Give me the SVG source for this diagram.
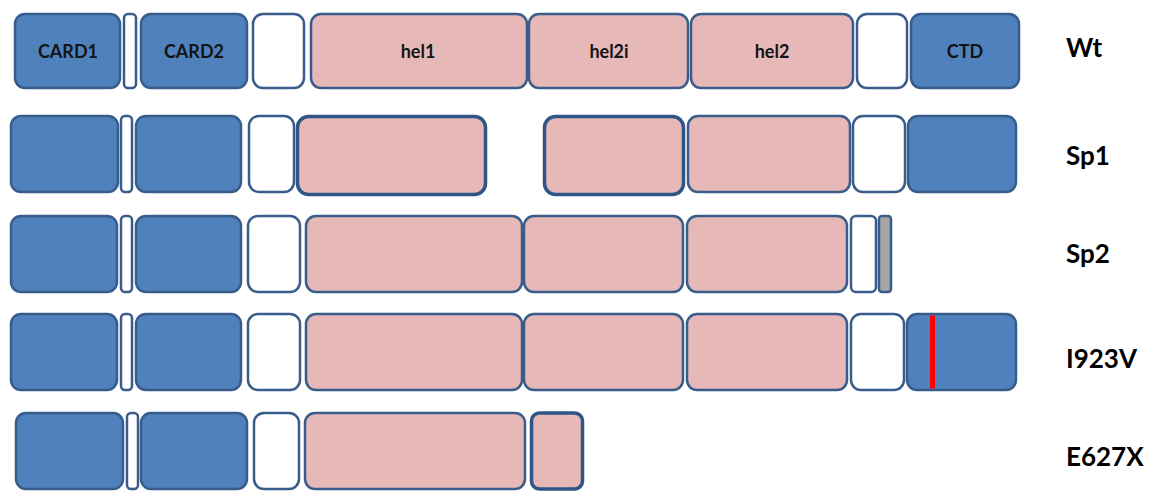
<svg xmlns="http://www.w3.org/2000/svg" width="1151" height="493" viewBox="0 0 1151 493">
<style>
.b{fill:#4F81BD;stroke:#385D8A;stroke-width:2.5}
.p{fill:#E6B9B8;stroke:#385D8A;stroke-width:2.5}
.pt{fill:#E6B9B8;stroke:#2F5587;stroke-width:3.5}
.w{fill:#FFFFFF;stroke:#385D8A;stroke-width:2.5}
.g{fill:#A6A6A6;stroke:#385D8A;stroke-width:2.5}
.t{font-family:Lato,"Liberation Sans",sans-serif;font-weight:bold;font-size:18px;fill:#141414;text-anchor:middle}
.lab{font-family:Lato,"Liberation Sans",sans-serif;font-weight:bold;font-size:26px;fill:#000}
</style>
<rect width="1151" height="493" fill="#FFFFFF"/>
<g id="row-wt">
<g id="wt-card1"><rect class="b" x="15" y="14" width="105" height="74" rx="10"/><text class="t" x="68" y="58">CARD1</text></g>
<g id="wt-link1"><rect class="w" x="124" y="14" width="12" height="74" rx="4"/></g>
<g id="wt-card2"><rect class="b" x="141" y="14" width="106" height="74" rx="10"/><text class="t" x="194" y="58">CARD2</text></g>
<g id="wt-link2"><rect class="w" x="253" y="14" width="51" height="74" rx="10"/></g>
<g id="wt-hel1"><rect class="p" x="311" y="14" width="216" height="74" rx="10"/><text class="t" x="418" y="58">hel1</text></g>
<g id="wt-hel2i"><rect class="p" x="529" y="14" width="159" height="74" rx="10"/><text class="t" x="609" y="58">hel2i</text></g>
<g id="wt-hel2"><rect class="p" x="691" y="14" width="162" height="74" rx="10"/><text class="t" x="772" y="58">hel2</text></g>
<g id="wt-link3"><rect class="w" x="857" y="14" width="50" height="74" rx="10"/></g>
<g id="wt-ctd"><rect class="b" x="911" y="14" width="108" height="74" rx="10"/><text class="t" x="965" y="58">CTD</text></g>
<text class="lab" x="1066" y="57">Wt</text>
</g>
<g id="row-sp1">
<g id="sp1-card1"><rect class="b" x="11" y="116" width="107" height="76" rx="10"/></g>
<g id="sp1-link1"><rect class="w" x="121" y="116" width="11" height="76" rx="4"/></g>
<g id="sp1-card2"><rect class="b" x="136" y="116" width="105" height="76" rx="10"/></g>
<g id="sp1-link2"><rect class="w" x="249" y="116" width="45" height="76" rx="10"/></g>
<g id="sp1-hel1"><rect class="pt" x="297.5" y="116.5" width="188" height="78" rx="11"/></g>
<g id="sp1-hel2i"><rect class="pt" x="544.5" y="116.5" width="139" height="78" rx="11"/></g>
<g id="sp1-hel2"><rect class="p" x="688" y="116" width="162" height="76" rx="10"/></g>
<g id="sp1-link3"><rect class="w" x="853" y="116" width="52" height="76" rx="10"/></g>
<g id="sp1-ctd"><rect class="b" x="908" y="116" width="108" height="76" rx="10"/></g>
<text class="lab" x="1066" y="165">Sp1</text>
</g>
<g id="row-sp2">
<g id="sp2-card1"><rect class="b" x="11" y="216" width="106" height="76" rx="10"/></g>
<g id="sp2-link1"><rect class="w" x="121" y="216" width="11" height="76" rx="4"/></g>
<g id="sp2-card2"><rect class="b" x="136" y="216" width="105" height="76" rx="10"/></g>
<g id="sp2-link2"><rect class="w" x="248" y="216" width="52" height="76" rx="10"/></g>
<g id="sp2-hel1"><rect class="p" x="306" y="216" width="216" height="76" rx="10"/></g>
<g id="sp2-hel2i"><rect class="p" x="524" y="216" width="159" height="76" rx="10"/></g>
<g id="sp2-hel2"><rect class="p" x="687" y="216" width="160" height="76" rx="10"/></g>
<g id="sp2-link3"><rect class="w" x="851" y="216" width="25" height="76" rx="5"/></g>
<g id="sp2-end"><rect class="g" x="879" y="216" width="12" height="76" rx="3"/></g>
<text class="lab" x="1066" y="263">Sp2</text>
</g>
<g id="row-i923v">
<g id="i923v-card1"><rect class="b" x="11" y="314" width="106" height="76" rx="10"/></g>
<g id="i923v-link1"><rect class="w" x="121" y="314" width="11" height="76" rx="4"/></g>
<g id="i923v-card2"><rect class="b" x="136" y="314" width="105" height="76" rx="10"/></g>
<g id="i923v-link2"><rect class="w" x="248" y="314" width="52" height="76" rx="10"/></g>
<g id="i923v-hel1"><rect class="p" x="306" y="314" width="216" height="76" rx="10"/></g>
<g id="i923v-hel2i"><rect class="p" x="524" y="314" width="159" height="76" rx="10"/></g>
<g id="i923v-hel2"><rect class="p" x="687" y="314" width="160" height="76" rx="10"/></g>
<g id="i923v-link3"><rect class="w" x="851" y="314" width="53" height="76" rx="10"/></g>
<g id="i923v-ctd"><rect class="b" x="907" y="314" width="109" height="76" rx="10"/><rect x="930" y="315.5" width="5" height="73" fill="#FF0000"/></g>
<text class="lab" x="1066" y="368">I923V</text>
</g>
<g id="row-e627x">
<g id="e627x-card1"><rect class="b" x="16" y="413" width="107" height="76" rx="10"/></g>
<g id="e627x-link1"><rect class="w" x="127" y="413" width="11" height="76" rx="4"/></g>
<g id="e627x-card2"><rect class="b" x="141" y="413" width="106" height="76" rx="10"/></g>
<g id="e627x-link2"><rect class="w" x="254" y="413" width="45" height="76" rx="10"/></g>
<g id="e627x-hel1"><rect class="p" x="305" y="413" width="220" height="76" rx="10"/></g>
<g id="e627x-hel2i"><rect class="pt" x="531.5" y="413" width="51" height="76" rx="8"/></g>
<text class="lab" x="1066" y="466">E627X</text>
</g>
</svg>
